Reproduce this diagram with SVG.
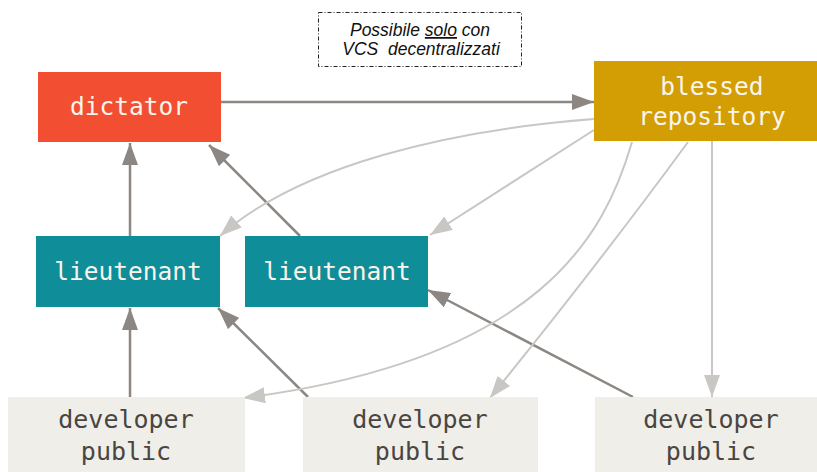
<svg xmlns="http://www.w3.org/2000/svg" width="817" height="472" viewBox="0 0 817 472">
  <style>
    .node-label { font-family: "DejaVu Sans Mono", "Liberation Mono", monospace; font-size: 24.5px; text-anchor: middle; fill: #fbf4ec; }
    .dev-label { font-family: "DejaVu Sans Mono", "Liberation Mono", monospace; font-size: 25px; text-anchor: middle; fill: #4a4541; }
    .note { font-family: "Liberation Sans", Arial, sans-serif; font-size: 17.5px; font-style: italic; text-anchor: middle; fill: #111; white-space: pre; }
    .push { fill: none; stroke: #8c8783; stroke-width: 2.5; }
    .pull { fill: none; stroke: #c9c7c4; stroke-width: 2; }
  </style>
  <defs>
    <marker id="head-dark" markerUnits="userSpaceOnUse" markerWidth="24" markerHeight="16" refX="22" refY="8" orient="auto">
      <path d="M0,0 L22,8 L0,16 Z" fill="#8c8783"/>
    </marker>
    <marker id="head-light" markerUnits="userSpaceOnUse" markerWidth="24" markerHeight="16" refX="22" refY="8" orient="auto">
      <path d="M0,0 L22,8 L0,16 Z" fill="#c9c7c4"/>
    </marker>
  </defs>

  <rect width="817" height="472" fill="#ffffff"/>

  <!-- note above the graph -->
  <g id="note">
    <rect x="318.5" y="12.5" width="203" height="54" fill="none" stroke="#222" stroke-width="1" stroke-dasharray="4 2 1 2"/>
    <text class="note" x="420" y="36">Possibile <tspan text-decoration="underline">solo</tspan> con</text>
    <text class="note" x="421" y="55" xml:space="preserve">VCS  decentralizzati</text>
  </g>

  <!-- connectors -->
  <g id="connectors">
    <!-- contributions flowing upward (dark) -->
    <path class="push" d="M221,102 L594,102" marker-end="url(#head-dark)"/>
    <path class="push" d="M130,236 L130,143" marker-end="url(#head-dark)"/>
    <path class="push" d="M300,236 L209,145" marker-end="url(#head-dark)"/>
    <path class="push" d="M130,397 L130,308" marker-end="url(#head-dark)"/>
    <path class="push" d="M308,397 L218,308" marker-end="url(#head-dark)"/>
    <path class="push" d="M633,397 L428,290" marker-end="url(#head-dark)"/>
    <!-- pulls from the blessed repository (light) -->
    <path class="pull" d="M594,119 C450,130 300,165 220,236" marker-end="url(#head-light)"/>
    <path class="pull" d="M594,130 L430,235" marker-end="url(#head-light)"/>
    <path class="pull" d="M632,142 C605,235 540,360 243,398" marker-end="url(#head-light)"/>
    <path class="pull" d="M688,142 Q600,262 490,398" marker-end="url(#head-light)"/>
    <path class="pull" d="M712,141 L712,397" marker-end="url(#head-light)"/>
  </g>

  <g id="dictator">
    <rect x="38" y="72" width="183" height="70" fill="#f14e32"/>
    <text class="node-label" x="129" y="115">dictator</text>
  </g>

  <g id="blessed-repository">
    <rect x="594" y="61" width="223" height="80" fill="#d29e04"/>
    <text class="node-label" x="712" y="95">blessed</text>
    <text class="node-label" x="712" y="125">repository</text>
  </g>

  <g id="lieutenant-1">
    <rect x="36" y="236" width="184" height="71" fill="#0f8e99"/>
    <text class="node-label" x="128" y="280">lieutenant</text>
  </g>

  <g id="lieutenant-2">
    <rect x="245" y="236" width="183" height="71" fill="#0f8e99"/>
    <text class="node-label" x="337" y="280">lieutenant</text>
  </g>

  <g id="developer-1">
    <rect x="8" y="397" width="237" height="75" fill="#efeee9"/>
    <text class="dev-label" x="126" y="428">developer</text>
    <text class="dev-label" x="126" y="460">public</text>
  </g>

  <g id="developer-2">
    <rect x="303" y="397" width="235" height="75" fill="#efeee9"/>
    <text class="dev-label" x="420" y="428">developer</text>
    <text class="dev-label" x="420" y="460">public</text>
  </g>

  <g id="developer-3">
    <rect x="595" y="397" width="222" height="75" fill="#efeee9"/>
    <text class="dev-label" x="711" y="428">developer</text>
    <text class="dev-label" x="711" y="460">public</text>
  </g>
</svg>
